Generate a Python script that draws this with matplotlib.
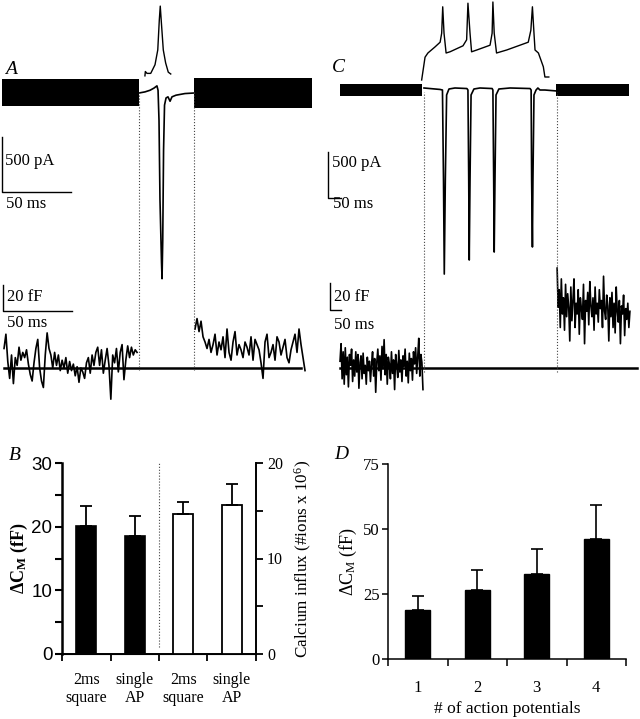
import numpy as np
import matplotlib.pyplot as plt

# ---------------- data ----------------
# panel A: single AP (time in ms, 0 = start of stimulus)
curr_a_t = [0, 4.3, 8, 10.9, 13, 13.8, 14.5, 15.2, 16.3, 16.7, 17.2, 17.8, 18.5,
            19.6, 21, 22.5, 23.9, 26.8, 33.3, 40]
curr_a_pa = [0, 10, 25, 45, 65, 25, -250, -970, -1540, -1690, -1340, -520, -110,
             -45, -35, -75, -35, -20, -5, 0]
ap_a_t = [4.3, 4.6, 5.8, 8.5, 11.6, 13.6, 14.7, 15.4, 16.1, 17.6, 19.3, 21.2, 23.0]
ap_a_mv = [-73, -66, -69, -69, -55, -31, 17, 40, 17, -31, -52, -67, -70]
sine_a_pre = (-99.3, 0.0, -118, 127)      # t start, t end, low pA, high pA
sine_a_post = (39.9, 125.4, -137, 137)
cap_a_pre = [15, 26, 5, -8, 10, -12, 8, 2, 16, 6, 12, 8, 14, 3, -5, -10, 4, 15, 22, 0,
             -10, -15, 10, 27, 15, 10, 0, 12, 2, 10, -2, 6, 0, 8, -4, 5, -2, 3, -6, 1,
             -11, 0, -3, -8, 4, 8, -4, 10, 2, 12, 16, 2, 14, -4, 6, 15, 2, -24, 10, 4,
             15, -3, 12, 18, -9, 6, 17, 8, 16, 10, 14, 12]
cap_a_post = [30, 38, 28, 36, 24, 20, 15, 22, 12, 18, 26, 10, 20, 14, 24, 8, 30, 12, 6,
              20, 28, 10, 18, 14, 8, 20, 16, 10, 24, 6, 22, 18, 14, 4, -8, 20, 26, 8,
              12, 18, 6, 24, 20, 10, 16, 22, 8, 4, 14, 20, 26, 12, 30, 18, 8, -2]

# panel C: train of 4 APs
curr_c_t = [0, 23, 62, 71, 75, 78, 82, 87, 96, 119, 165, 169, 172, 174, 177, 181, 192,
            215, 262, 265, 268, 270, 273, 277, 288, 331, 408, 412, 414, 417, 419, 423,
            431, 438, 446, 465, 512]
curr_c_pa = [11, 5, -5, -11, -992, -2017, -992, -65, 0, 11, 5, -11, -992, -1864, -992,
             -65, 0, 11, 5, -11, -992, -1777, -992, -65, 0, 11, 5, -11, -992, -1722,
             -992, -65, -11, 11, -11, -11, -22]
ap_c_t = [-9, 4, 15, 42, 62, 68, 72, 77, 85, 100, 150, 164, 169, 177, 183, 203, 254,
          262, 265, 270, 279, 318, 401, 411, 417, 423, 427, 440, 459, 465, 472, 480]
ap_c_mv = [-75, -37, -30, -20, -12, 3, 47, 3, -30, -28, -18, -8, 53, 3, -28, -25, -17,
           3, 55, 3, -30, -25, -12, 8, 47, 3, -25, -30, -53, -70, -70, -70]
sine_c_pre = (-323, -8, -76, 55)
sine_c_post = (508, 788, -76, 55)
cap_c_pre = [5, 18, -8, 12, -12, 15, -5, 8, -14, 10, 2, 14, -10, 6, -6, 12, -3, 10, -15,
             4, 9, -8, 11, -4, 2, -12, 8, -2, 5, -10, 3, 12, -6, 7, -18, 4, 14, -2, 9,
             -9, 16, 0, 21, -5, 10, -12, 8, 3, -8, 12, -4, 6, -16, 10, 2, -7, 13, -3,
             6, -10, 9, 1, 14, -6, 5, -11, 11, -2, 7, -9, 12, 3, 15, -4, 8, 22, -6, 10,
             4, -16]
cap_c_post = [74, 45, 58, 30, 66, 40, 52, 28, 62, 38, 55, 45, 20, 60, 35, 50, 66, 30, 48,
              40, 58, 25, 52, 44, 36, 62, 18, 50, 42, 56, 32, 64, 46, 38, 52, 28, 60, 40,
              48, 34, 58, 44, 50, 30, 68, 42, 36, 54, 46, 20, 52, 38, 56, 30, 48, 26, 60,
              42, 34, 50, 18, 46, 40, 54, 24, 44, 36, 48, 30, 42]

# panel B
b_labels = ['2ms\nsquare', 'single\nAP', '2ms\nsquare', 'single\nAP']
dcm_b = [20.1, 18.6]
dcm_b_err = [3.1, 3.0]
ca_b = [14.7, 15.6]
ca_b_err = [1.2, 2.2]

# panel D
n_ap = ['1', '2', '3', '4']
dcm_d = [18.8, 26.5, 32.7, 46.0]
dcm_d_err = [5.6, 7.7, 9.5, 13.2]

# ---------------- style ----------------
plt.rcParams['font.family'] = ['Liberation Serif', 'DejaVu Serif']
plt.rcParams['mathtext.fontset'] = 'custom'
plt.rcParams['mathtext.rm'] = 'Liberation Serif'
plt.rcParams['mathtext.it'] = 'Liberation Serif:italic'
plt.rcParams['mathtext.bf'] = 'Liberation Serif:bold'

W, H = 640, 719
fig = plt.figure(figsize=(W / 100, H / 100), dpi=100)


def px_axes(x0, y0, x1, y1):
    return fig.add_axes([x0 / W, 1 - y1 / H, (x1 - x0) / W, (y1 - y0) / H])


def trace_ax(x0, x1, t0_px, px_ms, ref_val, ref_px, px_unit):
    ax = px_axes(x0, 0, x1, 420)
    ax.set_xlim((x0 - t0_px) / px_ms, (x1 - t0_px) / px_ms)
    ax.set_ylim(ref_val - (420 - ref_px) / px_unit, ref_val + ref_px / px_unit)
    ax.axis('off')
    ax.patch.set_alpha(0)
    return ax


def ftext(x, y, s, **kw):
    kw.setdefault('fontsize', 12)
    kw.setdefault('va', 'center')
    fig.text(x / W, 1 - y / H, s, **kw)


lw_tr = 1.2

# ---------------- panel A ----------------
ia = trace_ax(0, 320, 139, 1.38, 0, 93, 1 / 9.1)
va = trace_ax(0, 320, 139, 1.38, -70, 74, 1 / 1.62)
ca = trace_ax(0, 320, 139, 1.38, 0, 368, 1.3)

for blk in (sine_a_pre, sine_a_post):
    ia.fill_between([blk[0], blk[1]], blk[2], blk[3], color='black', lw=0)
ia.plot(curr_a_t, curr_a_pa, color='black', lw=lw_tr)
va.plot(ap_a_t, ap_a_mv, color='black', lw=1.0)
ca.plot([-97.8, 117.4], [0, 0], color='black', lw=1.8)
ca.plot(np.linspace(-97.8, -1.4, len(cap_a_pre)), cap_a_pre, color='black', lw=lw_tr)
ca.plot(np.linspace(40.6, 120.3, len(cap_a_post)), cap_a_post, color='black', lw=lw_tr)
for t in (0, 40):
    ca.axvline(t, ymin=1 - 370 / 420, ymax=1 - 92 / 420, color='#444444', lw=0.8, ls=':')

# scale bars
ia.plot([-99, -99, -49], [-400, -900, -900], color='black', lw=1.0)
ca.plot([-98.6, -98.6, -48.6], [64, 44, 44], color='black', lw=1.0)
ftext(5, 161, '500 pA')
ftext(6, 204, '50 ms')
ftext(7, 297, '20 fF')
ftext(7, 323, '50 ms')
ftext(5, 70, 'A', fontsize=14, style='italic')

# ---------------- panel C ----------------
ic = trace_ax(320, 640, 424, 0.26, 0, 89, 1 / 10.9)
vc = trace_ax(320, 640, 424, 0.26, -70, 77, 0.6)
cc = trace_ax(320, 640, 424, 0.26, 0, 368, 1.35)

for blk in (sine_c_pre, sine_c_post):
    ic.fill_between([blk[0], blk[1]], blk[2], blk[3], color='black', lw=0)
ic.plot(curr_c_t, curr_c_pa, color='black', lw=lw_tr)
vc.plot(ap_c_t, ap_c_mv, color='black', lw=1.0)
cc.plot([-323, 819], [0, 0], color='black', lw=1.8)
cc.plot(np.linspace(-323, -4, len(cap_c_pre)), cap_c_pre, color='black', lw=lw_tr)
cc.plot(np.linspace(512, 792, len(cap_c_post)), cap_c_post, color='black', lw=lw_tr)
for t in (0, 512):
    cc.axvline(t, ymin=1 - 372 / 420, ymax=1 - 92 / 420, color='#444444', lw=0.8, ls=':')

ic.plot([-369, -369, -319], [-687, -1188, -1188], color='black', lw=1.0)
cc.plot([-362, -362, -320], [63, 43, 43], color='black', lw=1.0)
ftext(332, 163, '500 pA')
ftext(333, 204, '50 ms')
ftext(334, 297, '20 fF')
ftext(334, 325, '50 ms')
ftext(332, 68, 'C', fontsize=14, style='italic')

# ---------------- panel B ----------------
xb = np.arange(4) + 0.5
axB = px_axes(62, 463, 256, 654)
axB.bar(xb[:2], dcm_b, 0.42, color='black', edgecolor='black', lw=1.2, zorder=2)
axB.errorbar(xb[:2], dcm_b, yerr=[np.zeros(2), dcm_b_err], fmt='none', ecolor='black',
             elinewidth=1.3, capsize=4.5, capthick=1.3, zorder=3)
axB2 = axB.twinx()
axB2.bar(xb[2:], ca_b, 0.42, color='white', edgecolor='black', lw=1.3, zorder=2)
axB2.errorbar(xb[2:], ca_b, yerr=[np.zeros(2), ca_b_err], fmt='none', ecolor='black',
              elinewidth=1.3, capsize=4.5, capthick=1.3, zorder=3)
axB.axvline(2, ymin=0.035, ymax=1.0, color='#444444', lw=0.8, ls=':')

axB.set_xlim(0, 4)
axB.set_ylim(0, 30)
axB2.set_ylim(0, 20)
axB.set_yticks([0, 10, 20, 30])
axB.set_yticks([5, 15, 25], minor=True)
axB2.set_yticks([0, 10, 20])
axB2.set_yticks([5, 15], minor=True)
axB.set_xticks([0, 1, 2, 3, 4], labels=[])
axB.set_xticks(xb, labels=b_labels, minor=True)
axB.tick_params(axis='x', which='minor', length=0, pad=13, labelsize=11.5)
axB.tick_params(axis='x', which='major', length=5, width=1.3)
axB.tick_params(axis='y', which='both', length=5, width=1.5, pad=2)
axB2.tick_params(axis='y', which='both', length=5, width=1.3, pad=3, labelsize=11.5)
for lbl in axB.get_xticklabels(minor=True):
    lbl.set_linespacing(1.15)
for lbl in axB.get_yticklabels():
    lbl.set_fontfamily('Liberation Sans')
    lbl.set_fontsize(13.5)
for ax in (axB, axB2):
    ax.spines['top'].set_visible(False)
axB.spines['right'].set_visible(False)
axB2.spines['left'].set_visible(False)
axB.spines['left'].set_linewidth(1.8)
axB.spines['bottom'].set_linewidth(1.4)
axB2.spines['right'].set_linewidth(1.4)
axB.set_ylabel('ΔC$_{\\mathbf{M}}$ (fF)', fontsize=13, fontweight='bold', labelpad=1)
axB2.set_ylabel('Calcium influx (#ions x 10$^{6}$)', fontsize=12.3, labelpad=7)
ftext(9, 455, 'B', fontsize=14, style='italic')

# ---------------- panel D ----------------
axD = px_axes(388, 464, 626, 659)
axD.bar(xb, dcm_d, 0.42, color='black', edgecolor='black', lw=1.0, zorder=2)
axD.errorbar(xb, dcm_d, yerr=[np.zeros(4), dcm_d_err], fmt='none', ecolor='black',
             elinewidth=1.2, capsize=4.5, capthick=1.2, zorder=3)
axD.set_xlim(0, 4)
axD.set_ylim(0, 75)
axD.set_yticks([0, 25, 50, 75])
axD.set_xticks([0, 1, 2, 3, 4], labels=[])
axD.set_xticks(xb, labels=n_ap, minor=True)
axD.tick_params(axis='x', which='minor', length=0, pad=15, labelsize=12)
axD.tick_params(axis='x', which='major', length=5, width=1.1)
axD.tick_params(axis='y', length=4, width=1.1, pad=2, labelsize=12)
axD.spines['top'].set_visible(False)
axD.spines['right'].set_visible(False)
axD.spines['left'].set_linewidth(1.1)
axD.spines['bottom'].set_linewidth(1.1)
axD.set_ylabel('ΔC$_{\\mathrm{M}}$ (fF)', fontsize=13, labelpad=3)
axD.set_xlabel('# of action potentials', fontsize=12.5, labelpad=4)
ftext(334, 454, 'D', fontsize=14, style='italic')

fig.savefig('out.png', dpi=100)
